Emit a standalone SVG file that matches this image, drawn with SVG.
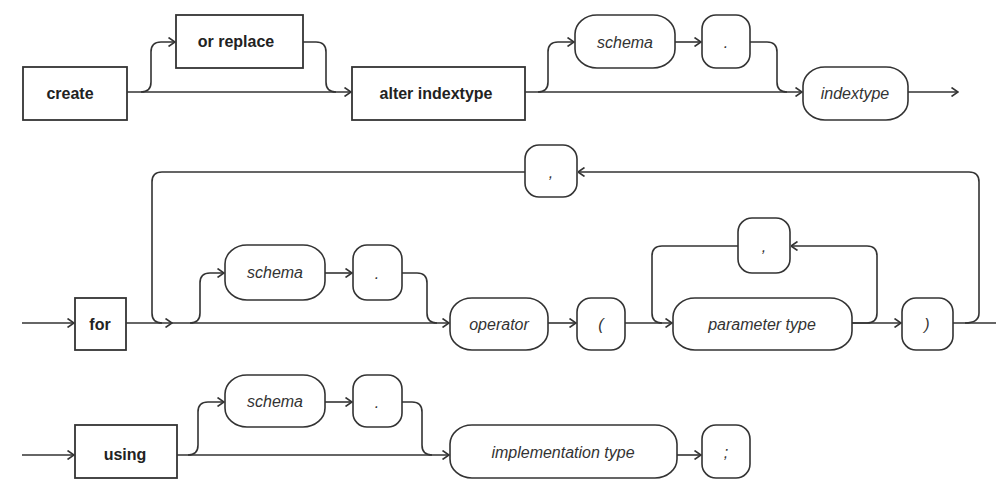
<svg xmlns="http://www.w3.org/2000/svg" width="996" height="481" viewBox="0 0 996 481">
  <style>
    .kw { fill: #fff; stroke: #333; stroke-width: 1.8; }
    .nt { fill: #fff; stroke: #333; stroke-width: 1.6; }
    .kt { font-family: "Liberation Sans", Arial, sans-serif; font-weight: bold; font-size: 16px; fill: #222; text-anchor: middle; dominant-baseline: central; }
    .it { font-family: "Liberation Sans", Arial, sans-serif; font-style: italic; font-size: 16px; fill: #333; text-anchor: middle; dominant-baseline: central; }
    #connectors path { fill: none; stroke: #333; stroke-width: 1.6; }
    .a { marker-end: url(#chev); }
  </style>
  <defs>
    <marker id="chev" viewBox="0 0 8 10" refX="7.5" refY="5" markerWidth="8" markerHeight="10" markerUnits="userSpaceOnUse" orient="auto">
      <path d="M1,0.5 L7.5,5 L1,9.5" fill="none" stroke="#333" stroke-width="1.6"/>
    </marker>
  </defs>
  <rect width="996" height="481" fill="#fff"/>

  <g id="connectors">
    <!-- row 1 -->
    <path class="a" d="M127,92 H351"/>
    <path class="a" d="M141,92 Q151,92 151,82 V52 Q151,42 161,42 H175"/>
    <path d="M303,42 H316 Q326,42 326,52 V82 Q326,92 336,92"/>
    <path class="a" d="M525,92 H802"/>
    <path class="a" d="M538,92 Q548,92 548,82 V52 Q548,42 558,42 H574"/>
    <path class="a" d="M675,42 H701"/>
    <path d="M750,42 H767 Q777,42 777,52 V82 Q777,92 787,92"/>
    <path class="a" d="M908,92 H958"/>
    <!-- row 2 -->
    <path class="a" d="M22,323 H74"/>
    <path class="a" d="M126,323 H172"/>
    <path class="a" d="M172,323 H449"/>
    <path class="a" d="M965,323 Q979,323 979,313 V182 Q979,172 969,172 H578"/>
    <path d="M525,172 H162 Q152,172 152,182 V313 Q152,323 162,323"/>
    <path class="a" d="M190,323 Q200,323 200,313 V283 Q200,273 210,273 H224"/>
    <path class="a" d="M325,273 H352"/>
    <path d="M402,273 H417 Q427,273 427,283 V313 Q427,323 437,323"/>
    <path class="a" d="M548,323 H576"/>
    <path class="a" d="M625,323 H672"/>
    <path class="a" d="M852,323 H867 Q877,323 877,313 V256 Q877,246 867,246 H791"/>
    <path d="M738,246 H662 Q652,246 652,256 V313 Q652,323 662,323"/>
    <path class="a" d="M852,323 H901"/>
    <path d="M953,323 H996"/>
    <!-- row 3 -->
    <path class="a" d="M22,455 H74"/>
    <path class="a" d="M177,455 H449"/>
    <path class="a" d="M188,455 Q198,455 198,445 V412 Q198,402 208,402 H224"/>
    <path class="a" d="M325,402 H352"/>
    <path d="M402,402 H412 Q422,402 422,412 V445 Q422,455 432,455"/>
    <path class="a" d="M677,455 H701"/>
  </g>

  <!-- row 1 nodes -->
  <g id="create"><rect class="kw" x="23" y="67" width="104" height="53"/><text class="kt" x="70" y="93">create</text></g>
  <g id="or-replace"><rect class="kw" x="176" y="15" width="127" height="53"/><text class="kt" x="236" y="41">or replace</text></g>
  <g id="alter-indextype"><rect class="kw" x="352" y="67" width="173" height="53"/><text class="kt" x="436" y="93">alter indextype</text></g>
  <g id="schema-1"><rect class="nt" x="575" y="15" width="100" height="53" rx="22" ry="19"/><text class="it" x="625" y="42">schema</text></g>
  <g id="dot-1"><rect class="nt" x="702" y="15" width="48" height="53" rx="14" ry="14"/><text class="it" x="726" y="42">.</text></g>
  <g id="indextype"><rect class="nt" x="803" y="67" width="105" height="53" rx="22" ry="19"/><text class="it" x="855" y="93">indextype</text></g>

  <!-- row 2 nodes -->
  <g id="for"><rect class="kw" x="75" y="298" width="51" height="52"/><text class="kt" x="100" y="324">for</text></g>
  <g id="comma-list"><rect class="nt" x="525" y="145" width="52" height="52" rx="14" ry="14"/><text class="it" x="551" y="172">,</text></g>
  <g id="schema-2"><rect class="nt" x="225" y="245" width="100" height="55" rx="22" ry="19"/><text class="it" x="275" y="272">schema</text></g>
  <g id="dot-2"><rect class="nt" x="353" y="245" width="49" height="55" rx="14" ry="14"/><text class="it" x="377" y="273">.</text></g>
  <g id="operator"><rect class="nt" x="450" y="298" width="98" height="52" rx="22" ry="19"/><text class="it" x="499" y="324">operator</text></g>
  <g id="lparen"><rect class="nt" x="577" y="298" width="48" height="52" rx="14" ry="14"/><text class="it" x="601" y="324">(</text></g>
  <g id="comma-param"><rect class="nt" x="738" y="218" width="52" height="55" rx="14" ry="14"/><text class="it" x="764" y="246">,</text></g>
  <g id="parameter-type"><rect class="nt" x="673" y="298" width="179" height="52" rx="22" ry="19"/><text class="it" x="762" y="324">parameter type</text></g>
  <g id="rparen"><rect class="nt" x="902" y="298" width="51" height="52" rx="14" ry="14"/><text class="it" x="927" y="324">)</text></g>

  <!-- row 3 nodes -->
  <g id="using"><rect class="kw" x="75" y="425" width="102" height="53"/><text class="kt" x="125" y="454">using</text></g>
  <g id="schema-3"><rect class="nt" x="225" y="375" width="100" height="52" rx="22" ry="19"/><text class="it" x="275" y="401">schema</text></g>
  <g id="dot-3"><rect class="nt" x="353" y="375" width="49" height="52" rx="14" ry="14"/><text class="it" x="377" y="402">.</text></g>
  <g id="implementation-type"><rect class="nt" x="450" y="425" width="227" height="53" rx="22" ry="19"/><text class="it" x="563" y="452">implementation type</text></g>
  <g id="semicolon"><rect class="nt" x="702" y="425" width="48" height="53" rx="14" ry="14"/><text class="it" x="726" y="452">;</text></g>
</svg>
